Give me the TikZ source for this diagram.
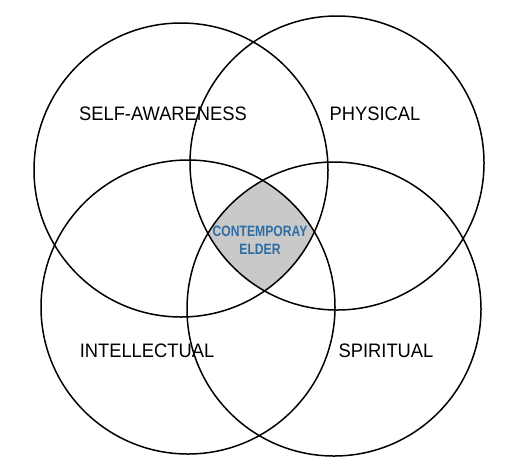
\documentclass[tikz,border=0pt]{standalone}
\usepackage{fontspec}
\setmainfont{Liberation Sans}
\usepackage{tikz}
\definecolor{elderblue}{HTML}{2E6DA4}
\definecolor{coregray}{HTML}{C9C9C9}

\begin{document}
\begin{tikzpicture}[x=1pt, y=-1pt]
		\tikzset{ring/.style={shape = circle, draw, line width = 1.5pt, minimum size = 294pt, inner sep = 0pt}}
		\tikzset{area/.style={font = \fontsize{19.5}{19.5}\selectfont, xscale = 0.94}}
		\tikzset{core/.style={font = \bfseries\fontsize{15}{18}\selectfont, text = elderblue, align = center, xscale = 0.81}}
		\useasboundingbox (0, 0) rectangle (518, 464);
		%shaded centre
		\begin{scope}
		\clip (181, 170) circle (147pt);
		\clip (337, 163) circle (147pt);
		\clip (188, 307) circle (147pt);
		\clip (334, 309) circle (147pt);
		\fill[coregray] (0, 0) rectangle (518, 464);
		\end{scope}
		%circles
		\node[ring] (selfc) at (181, 170) {};
		\node[ring] (physc) at (337, 163) {};
		\node[ring] (intec) at (188, 307) {};
		\node[ring] (spirc) at (334, 309) {};
		%labels
		\node[area] (self) at (163, 114) {SELF-AWARENESS};
		\node[area] (phys) at (375, 114) {PHYSICAL};
		\node[area] (inte) at (147, 351) {INTELLECTUAL};
		\node[area] (spir) at (386, 351) {SPIRITUAL};
		\node[core] (elder) at (260, 240) {CONTEMPORAY\\ELDER};
\end{tikzpicture}
\end{document}
